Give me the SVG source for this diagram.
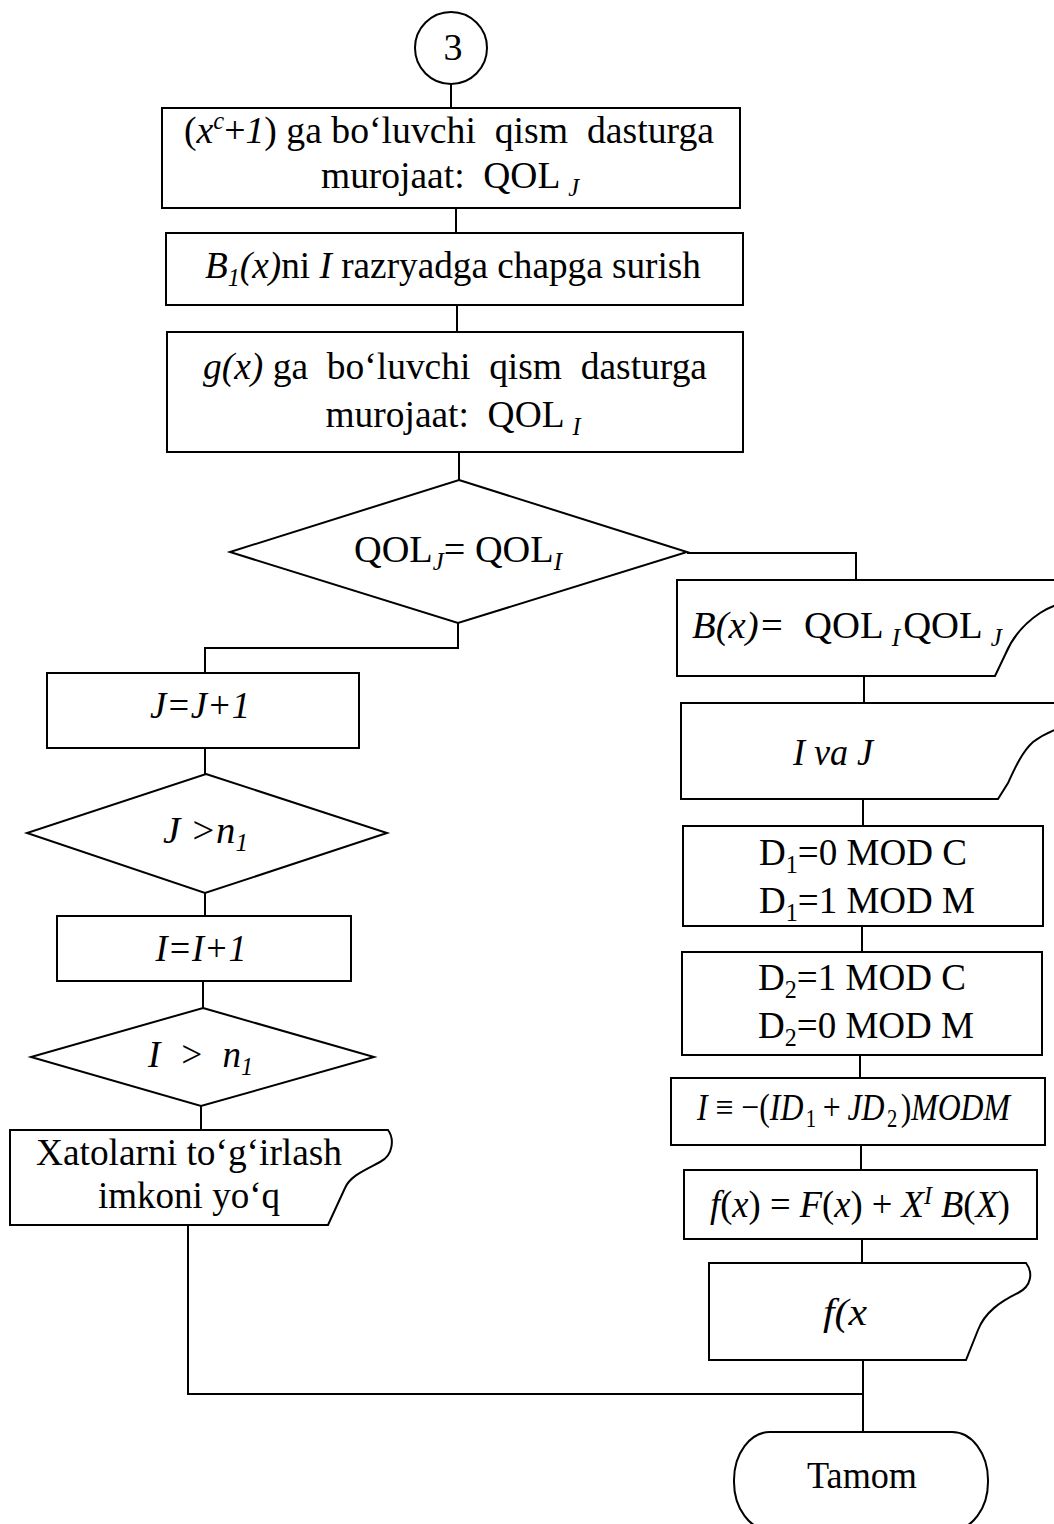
<svg xmlns="http://www.w3.org/2000/svg" width="1054" height="1524" viewBox="0 0 1054 1524">
<style>
.s{fill:#fff;stroke:#000;stroke-width:2}
.c{fill:none;stroke:#000;stroke-width:2}
text{font-family:"Liberation Serif","Times New Roman",serif;font-size:38px;fill:#000}
.m{text-anchor:middle}
.i{font-style:italic}
.sb{font-size:65%}
</style>
<rect width="1054" height="1524" fill="#fff"/>
<g id="connectors" class="c">
<path d="M451 84 V108"/>
<path d="M456 208 V233"/>
<path d="M457 305 V332"/>
<path d="M459 452 V480"/>
<path d="M687 553 H856 V580"/>
<path d="M458 623 V648 H205 V673"/>
<path d="M864 676 V703"/>
<path d="M863 799 V826"/>
<path d="M862 926 V952"/>
<path d="M860 1055 V1078"/>
<path d="M861 1145 V1170"/>
<path d="M862 1239 V1263"/>
<path d="M863 1360 V1432"/>
<path d="M205 748 V774"/>
<path d="M205 893 V916"/>
<path d="M203 981 V1008"/>
<path d="M201 1106 V1130"/>
<path d="M188 1225 V1394 H863"/>
</g>
<g id="n-start">
<circle class="s" cx="451" cy="48" r="36"/>
<text class="m" x="453" y="60">3</text>
</g>
<g id="n-box1">
<rect class="s" x="162" y="108" width="578" height="100"/>
<text class="m" x="449" y="143" font-size="39" textLength="530" lengthAdjust="spacingAndGlyphs" xml:space="preserve">(<tspan class="i">x</tspan><tspan class="i sb" dy="-14">c</tspan><tspan dy="14">+</tspan><tspan class="i">1</tspan>) ga bo‘luvchi  qism  dasturga</text>
<text class="m" x="450" y="188" font-size="39" textLength="258" lengthAdjust="spacingAndGlyphs" xml:space="preserve">murojaat:  QOL<tspan class="i sb" dx="8" dy="8">J</tspan></text>
</g>
<g id="n-box2">
<rect class="s" x="166" y="233" width="577" height="72"/>
<text class="m" x="453" y="278" font-size="39" textLength="496" lengthAdjust="spacingAndGlyphs" xml:space="preserve"><tspan class="i">B</tspan><tspan class="i sb" dy="8">1</tspan><tspan class="i" dy="-8">(x)</tspan>ni <tspan class="i">I</tspan> razryadga chapga surish</text>
</g>
<g id="n-box3">
<rect class="s" x="167" y="332" width="576" height="120"/>
<text class="m" x="455" y="379" font-size="39" textLength="504" lengthAdjust="spacingAndGlyphs" xml:space="preserve"><tspan class="i">g(x)</tspan> ga  bo‘luvchi  qism  dasturga</text>
<text class="m" x="453" y="427" font-size="39" textLength="255" lengthAdjust="spacingAndGlyphs" xml:space="preserve">murojaat:  QOL<tspan class="i sb" dx="8" dy="8">I</tspan></text>
</g>
<g id="n-dec1">
<polygon class="s" points="459,480 687,552 458,623 230,552"/>
<text class="m" x="458" y="562" font-size="42" textLength="208" lengthAdjust="spacingAndGlyphs">QOL<tspan class="i sb" dy="8">J</tspan><tspan dy="-8">= QOL</tspan><tspan class="i sb" dy="8">I</tspan></text>
</g>
<g id="n-out-b">
<path class="s" d="M677 580 H1075 V600 C1060 603 1050 606 1040 613 C1025 623 1012 638 1005 655 L995 676 H677 Z"/>
<text x="692" y="638" textLength="310" lengthAdjust="spacingAndGlyphs" xml:space="preserve"><tspan class="i">B(x)=</tspan>  QOL<tspan class="i sb" dx="8" dy="8">I</tspan><tspan dx="3" dy="-8">QOL</tspan><tspan class="i sb" dx="8" dy="8">J</tspan></text>
</g>
<g id="n-out-ij">
<path class="s" d="M681 703 H1075 V724 C1062 726 1045 733 1033 742 C1022 752 1015 768 1008 783 L998 799 H681 Z"/>
<text class="i" x="793" y="765" textLength="80" lengthAdjust="spacingAndGlyphs">I va J</text>
</g>
<g id="n-d1">
<rect class="s" x="683" y="826" width="360" height="100"/>
<text x="759" y="865" textLength="208" lengthAdjust="spacingAndGlyphs">D<tspan class="sb" dy="8">1</tspan><tspan dy="-8">=0 MOD C</tspan></text>
<text x="759" y="913" textLength="216" lengthAdjust="spacingAndGlyphs">D<tspan class="sb" dy="8">1</tspan><tspan dy="-8">=1 MOD M</tspan></text>
</g>
<g id="n-d2">
<rect class="s" x="682" y="952" width="360" height="103"/>
<text x="758" y="990" textLength="208" lengthAdjust="spacingAndGlyphs">D<tspan class="sb" dy="8">2</tspan><tspan dy="-8">=1 MOD C</tspan></text>
<text x="758" y="1038" textLength="216" lengthAdjust="spacingAndGlyphs">D<tspan class="sb" dy="8">2</tspan><tspan dy="-8">=0 MOD M</tspan></text>
</g>
<g id="n-i">
<rect class="s" x="671" y="1078" width="374" height="67"/>
<text x="697" y="1120" font-size="30" textLength="313" lengthAdjust="spacingAndGlyphs"><tspan class="i">I</tspan> ≡ −(<tspan class="i">ID</tspan><tspan class="sb" dx="3" dy="7">1</tspan><tspan dx="8" dy="-7">+</tspan><tspan class="i" dx="8">JD</tspan><tspan class="sb" dx="3" dy="7">2</tspan><tspan dx="4" dy="-7">)</tspan><tspan class="i">MODM</tspan></text>
</g>
<g id="n-f">
<rect class="s" x="684" y="1170" width="353" height="69"/>
<text x="710" y="1217" font-size="33" textLength="300" lengthAdjust="spacingAndGlyphs"><tspan class="i">f</tspan>(<tspan class="i">x</tspan>) = <tspan class="i">F</tspan>(<tspan class="i">x</tspan>) + <tspan class="i">X</tspan><tspan class="i sb" dy="-13">I</tspan><tspan class="i" dy="13"> B</tspan>(<tspan class="i">X</tspan>)</text>
</g>
<g id="n-out-f">
<path class="s" d="M709 1263 H1026 C1033 1272 1032 1286 1018 1293 C1000 1302 985 1312 978 1330 L966 1360 H709 Z"/>
<text class="i" x="823" y="1325" textLength="44" lengthAdjust="spacingAndGlyphs">f(x</text>
</g>
<g id="n-end">
<rect class="s" x="734" y="1432" width="254" height="98" rx="36" ry="48"/>
<text class="m" x="862" y="1488" textLength="110" lengthAdjust="spacingAndGlyphs">Tamom</text>
</g>
<g id="n-j">
<rect class="s" x="47" y="673" width="312" height="75"/>
<text class="m i" x="200" y="718" textLength="100" lengthAdjust="spacingAndGlyphs">J=J+1</text>
</g>
<g id="n-dec-j">
<polygon class="s" points="206,774 387,833 205,893 27,833"/>
<text class="i" x="163" y="843" textLength="85" lengthAdjust="spacingAndGlyphs">J &gt;n<tspan class="sb" dy="8">1</tspan></text>
</g>
<g id="n-ii">
<rect class="s" x="57" y="916" width="294" height="65"/>
<text class="m i" x="201" y="961" textLength="91" lengthAdjust="spacingAndGlyphs">I=I+1</text>
</g>
<g id="n-dec-i">
<polygon class="s" points="203,1008 374,1057 201,1106 31,1057"/>
<text class="i" x="148" y="1067" textLength="105" lengthAdjust="spacingAndGlyphs" xml:space="preserve">I  &gt;  n<tspan class="sb" dy="8">1</tspan></text>
</g>
<g id="n-err">
<path class="s" d="M10 1130 H388 C394 1138 394 1155 380 1162 C365 1170 350 1176 345 1188 L328 1225 H10 Z"/>
<text class="m" x="189" y="1165" font-size="37.5" textLength="306" lengthAdjust="spacingAndGlyphs">Xatolarni to‘g‘irlash</text>
<text class="m" x="189" y="1208" font-size="37.5" textLength="182" lengthAdjust="spacingAndGlyphs">imkoni yo‘q</text>
</g>
</svg>
